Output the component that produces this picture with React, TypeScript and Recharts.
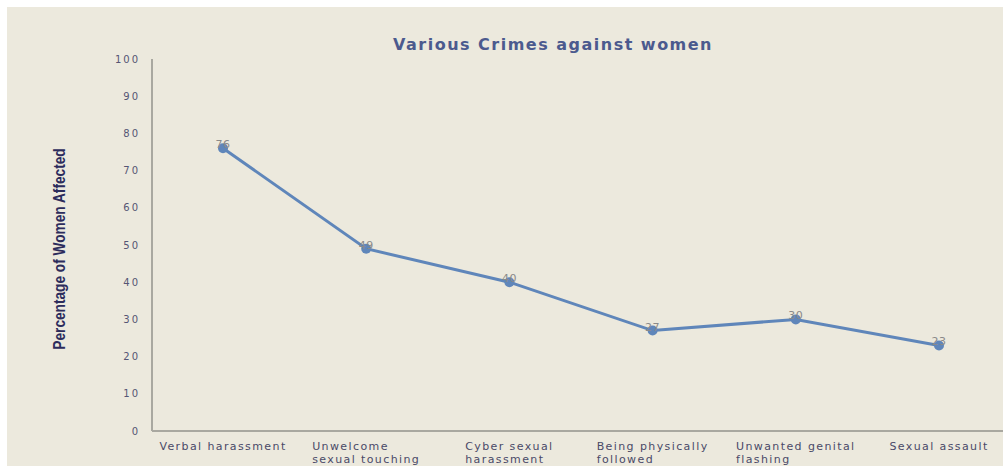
import { LineChart, Line, XAxis, YAxis, LabelList } from 'recharts';

const categories = [
  'Verbal harassment',
  'Unwelcome\nsexual touching',
  'Cyber sexual\nharassment',
  'Being physically\nfollowed',
  'Unwanted genital\nflashing',
  'Sexual assault',
];
const percentages = [76, 49, 40, 27, 30, 23];
const yTicks = [0, 10, 20, 30, 40, 50, 60, 70, 80, 90, 100];

const chartData = categories.map((name, i) => ({ name, value: percentages[i] }));

const TICK_SIZE = 11;
const TICK_SPACING = 1.4;
const TITLE = 'Various Crimes against women';
const Y_LABEL = 'Percentage of Women Affected';

let ctx: CanvasRenderingContext2D | null = null;
const measure = (s: string, font: string) => {
  if (!ctx) ctx = document.createElement('canvas').getContext('2d');
  if (!ctx) return s.length * 6.5;
  ctx.font = font;
  return ctx.measureText(s).width;
};

const CategoryTick = (props: any) => {
  const { x, y, payload } = props;
  const lines = String(payload.value).split('\n');
  const w = Math.max(...lines.map(l => measure(l, `${TICK_SIZE}px "DejaVu Sans"`) + l.length * TICK_SPACING));
  return (
    <g>
      {lines.map((l, i) => (
        <text
          key={i}
          x={x - w / 2}
          y={y + 11 + i * 13}
          fill="#4a4a68"
          fontFamily="DejaVu Sans"
          fontSize={TICK_SIZE}
          letterSpacing={TICK_SPACING}
          textAnchor="start"
        >
          {l}
        </text>
      ))}
    </g>
  );
};

const ValueLabel = (props: any) => {
  const { x, y, value } = props;
  return (
    <text x={x} y={y} fill="#8a8a8a" fontFamily="DejaVu Sans" fontSize={11} letterSpacing={0.5} textAnchor="middle">
      {value}
    </text>
  );
};

// condensed axis title, squeezed to the width seen in the picture
const YTitle = () => {
  const font = 'bold 16px "Liberation Sans"';
  const sx = 202 / measure(Y_LABEL, font);
  return (
    <text
      transform={`translate(65,249) rotate(-90) scale(${sx},1)`}
      textAnchor="middle"
      fill="#2c2c5c"
      fontFamily="Liberation Sans"
      fontWeight="bold"
      fontSize={16}
    >
      {Y_LABEL}
    </text>
  );
};

export default function App() {
  const titleFont = 'bold 16px "DejaVu Sans"';
  const titleSpacing = Math.max(0, (320 - measure(TITLE, titleFont)) / TITLE.length);
  return (
    <div style={{ position: 'fixed', left: 0, top: 0, width: 1006, height: 466, background: '#fff', overflow: 'hidden' }}>
      <div style={{ position: 'absolute', left: 7, top: 7, right: 3, bottom: 0, background: '#ece9dd' }} />
      <div
        style={{
          position: 'absolute',
          left: 553,
          top: 35,
          transform: 'translateX(-50%)',
          whiteSpace: 'nowrap',
          fontFamily: '"DejaVu Sans", sans-serif',
          fontWeight: 'bold',
          fontSize: 16,
          letterSpacing: titleSpacing,
          color: '#4b5a8e',
        }}
      >
        {TITLE}
      </div>
      <div style={{ position: 'absolute', left: 0, top: 0 }}>
        <LineChart width={1006} height={466} data={chartData} margin={{ top: 59, right: 3, bottom: 0, left: 52 }}>
          <XAxis
            dataKey="name"
            height={35}
            interval={0}
            padding={{ left: 71, right: 64 }}
            axisLine={{ stroke: '#a9a8a0', strokeWidth: 2 }}
            tickLine={false}
            tick={<CategoryTick />}
          />
          <YAxis
            width={100}
            domain={[0, 100]}
            ticks={yTicks}
            interval={0}
            axisLine={{ stroke: '#a9a8a0', strokeWidth: 2 }}
            tickLine={false}
            tickSize={0}
            tickMargin={12}
            tick={{ fill: '#555574', fontSize: 10, fontFamily: 'DejaVu Sans', letterSpacing: 2 }}
            label={<YTitle />}
          />
          <Line
            type="linear"
            dataKey="value"
            stroke="#5f86ba"
            strokeWidth={3}
            dot={{ r: 5, fill: '#5f86ba', stroke: '#5f86ba', strokeWidth: 0 }}
            activeDot={false}
            isAnimationActive={false}
          >
            <LabelList dataKey="value" content={<ValueLabel />} />
          </Line>
        </LineChart>
      </div>
    </div>
  );
}
